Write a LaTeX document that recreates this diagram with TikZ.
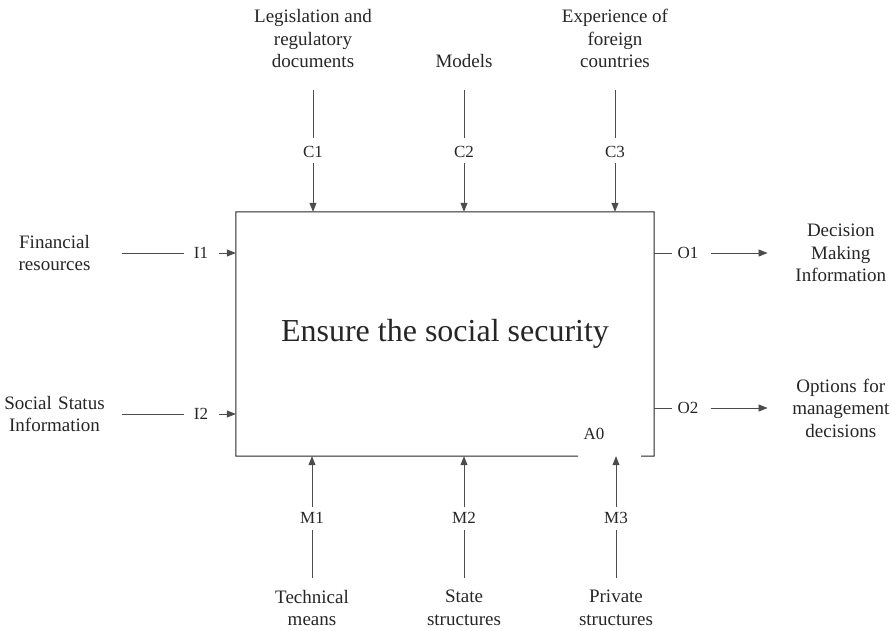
\documentclass[tikz,border=0pt]{standalone}
\usepackage{fontspec}
\setmainfont{Liberation Serif}
\usetikzlibrary{positioning,arrows.meta}
\tikzset{label node/.style={align=center, font=\fontsize{19}{22.5}\selectfont, inner sep=1pt, text=black!85},
  side node/.style={label node, text width=104pt},
  tag node/.style={font=\fontsize{17}{20}\selectfont, inner sep=1pt, text=black!85},
  flow/.style={draw=black!70, line width=0.8pt},
  into/.style={flow, -{Triangle[length=9pt,width=7pt]}},}

\begin{document}
\begin{tikzpicture}[x=1pt,y=-1pt]
  \useasboundingbox (0,0) rectangle (891,630);
  % the A0 block
  \node[minimum width=418pt, minimum height=244pt, inner sep=0pt, text=black!85,
    font=\fontsize{32}{36}\selectfont] (box) at (445,334) {Ensure the social security};
  \draw[line width=1pt, black!85] (578,456) -- (box.south west) -- (box.north west)
    -- (box.north east) -- (box.south east) -- (641,456);
  \node[tag node] (a0) at (594,434) {A0};

  % controls
  \node[tag node] (c1) at (313,152) {C1};
  \node[tag node] (c2) at (464,152) {C2};
  \node[tag node] (c3) at (615,152) {C3};
  \node[label node] (tc1) [above = 76pt of c1] {Legislation and\\regulatory\\documents};
  \node[label node] (tc2) [above = 76pt of c2] {Models};
  \node[label node] (tc3) [above = 76pt of c3] {Experience of\\foreign\\countries};

  % inputs
  \node[tag node] (i1) at (201,253) {I1};
  \node[tag node] (i2) at (201,414) {I2};
  \node[side node] (ti1) [left = 85pt of i1] {Financial\\resources};
  \node[side node] (ti2) [left = 85pt of i2] {Social Status\\Information};

  % outputs
  \node[tag node] (o1) at (688,253) {O1};
  \node[tag node] (o2) at (688,408) {O2};
  \node[side node] (to1) [right = 88pt of o1] {Decision\\Making\\Information};
  \node[side node] (to2) [right = 88pt of o2] {Options for\\management\\decisions};

  % mechanisms
  \node[tag node] (m1) at (312,518) {M1};
  \node[tag node] (m2) at (464,518) {M2};
  \node[tag node] (m3) at (616,518) {M3};
  \node[label node] (tm1) [below = 64pt of m1] {Technical\\means};
  \node[label node] (tm2) [below = 64pt of m2] {State\\structures};
  \node[label node] (tm3) [below = 64pt of m3] {Private\\structures};

  \foreach \n in {1,2,3} {
    \draw[flow, shorten <=21pt, shorten >=7pt] (tc\n) -- (c\n);
    \draw[into, shorten <=4pt] (c\n) -- (c\n |- box.north);
    \draw[flow, shorten <=11pt, shorten >=5pt] (tm\n) -- (m\n);
    \draw[into, shorten <=4pt] (m\n) -- (m\n |- box.south);
  }
  \foreach \n in {1,2} {
    \draw[flow, shorten <=14pt, shorten >=9pt] (ti\n) -- (i\n);
    \draw[into, shorten <=10pt] (i\n) -- (i\n -| box.west);
    \draw[flow, shorten >=4pt] (o\n -| box.east) -- (o\n);
    \draw[into, shorten <=11pt, shorten >=20pt] (o\n) -- (to\n);
  }
\end{tikzpicture}
\end{document}
